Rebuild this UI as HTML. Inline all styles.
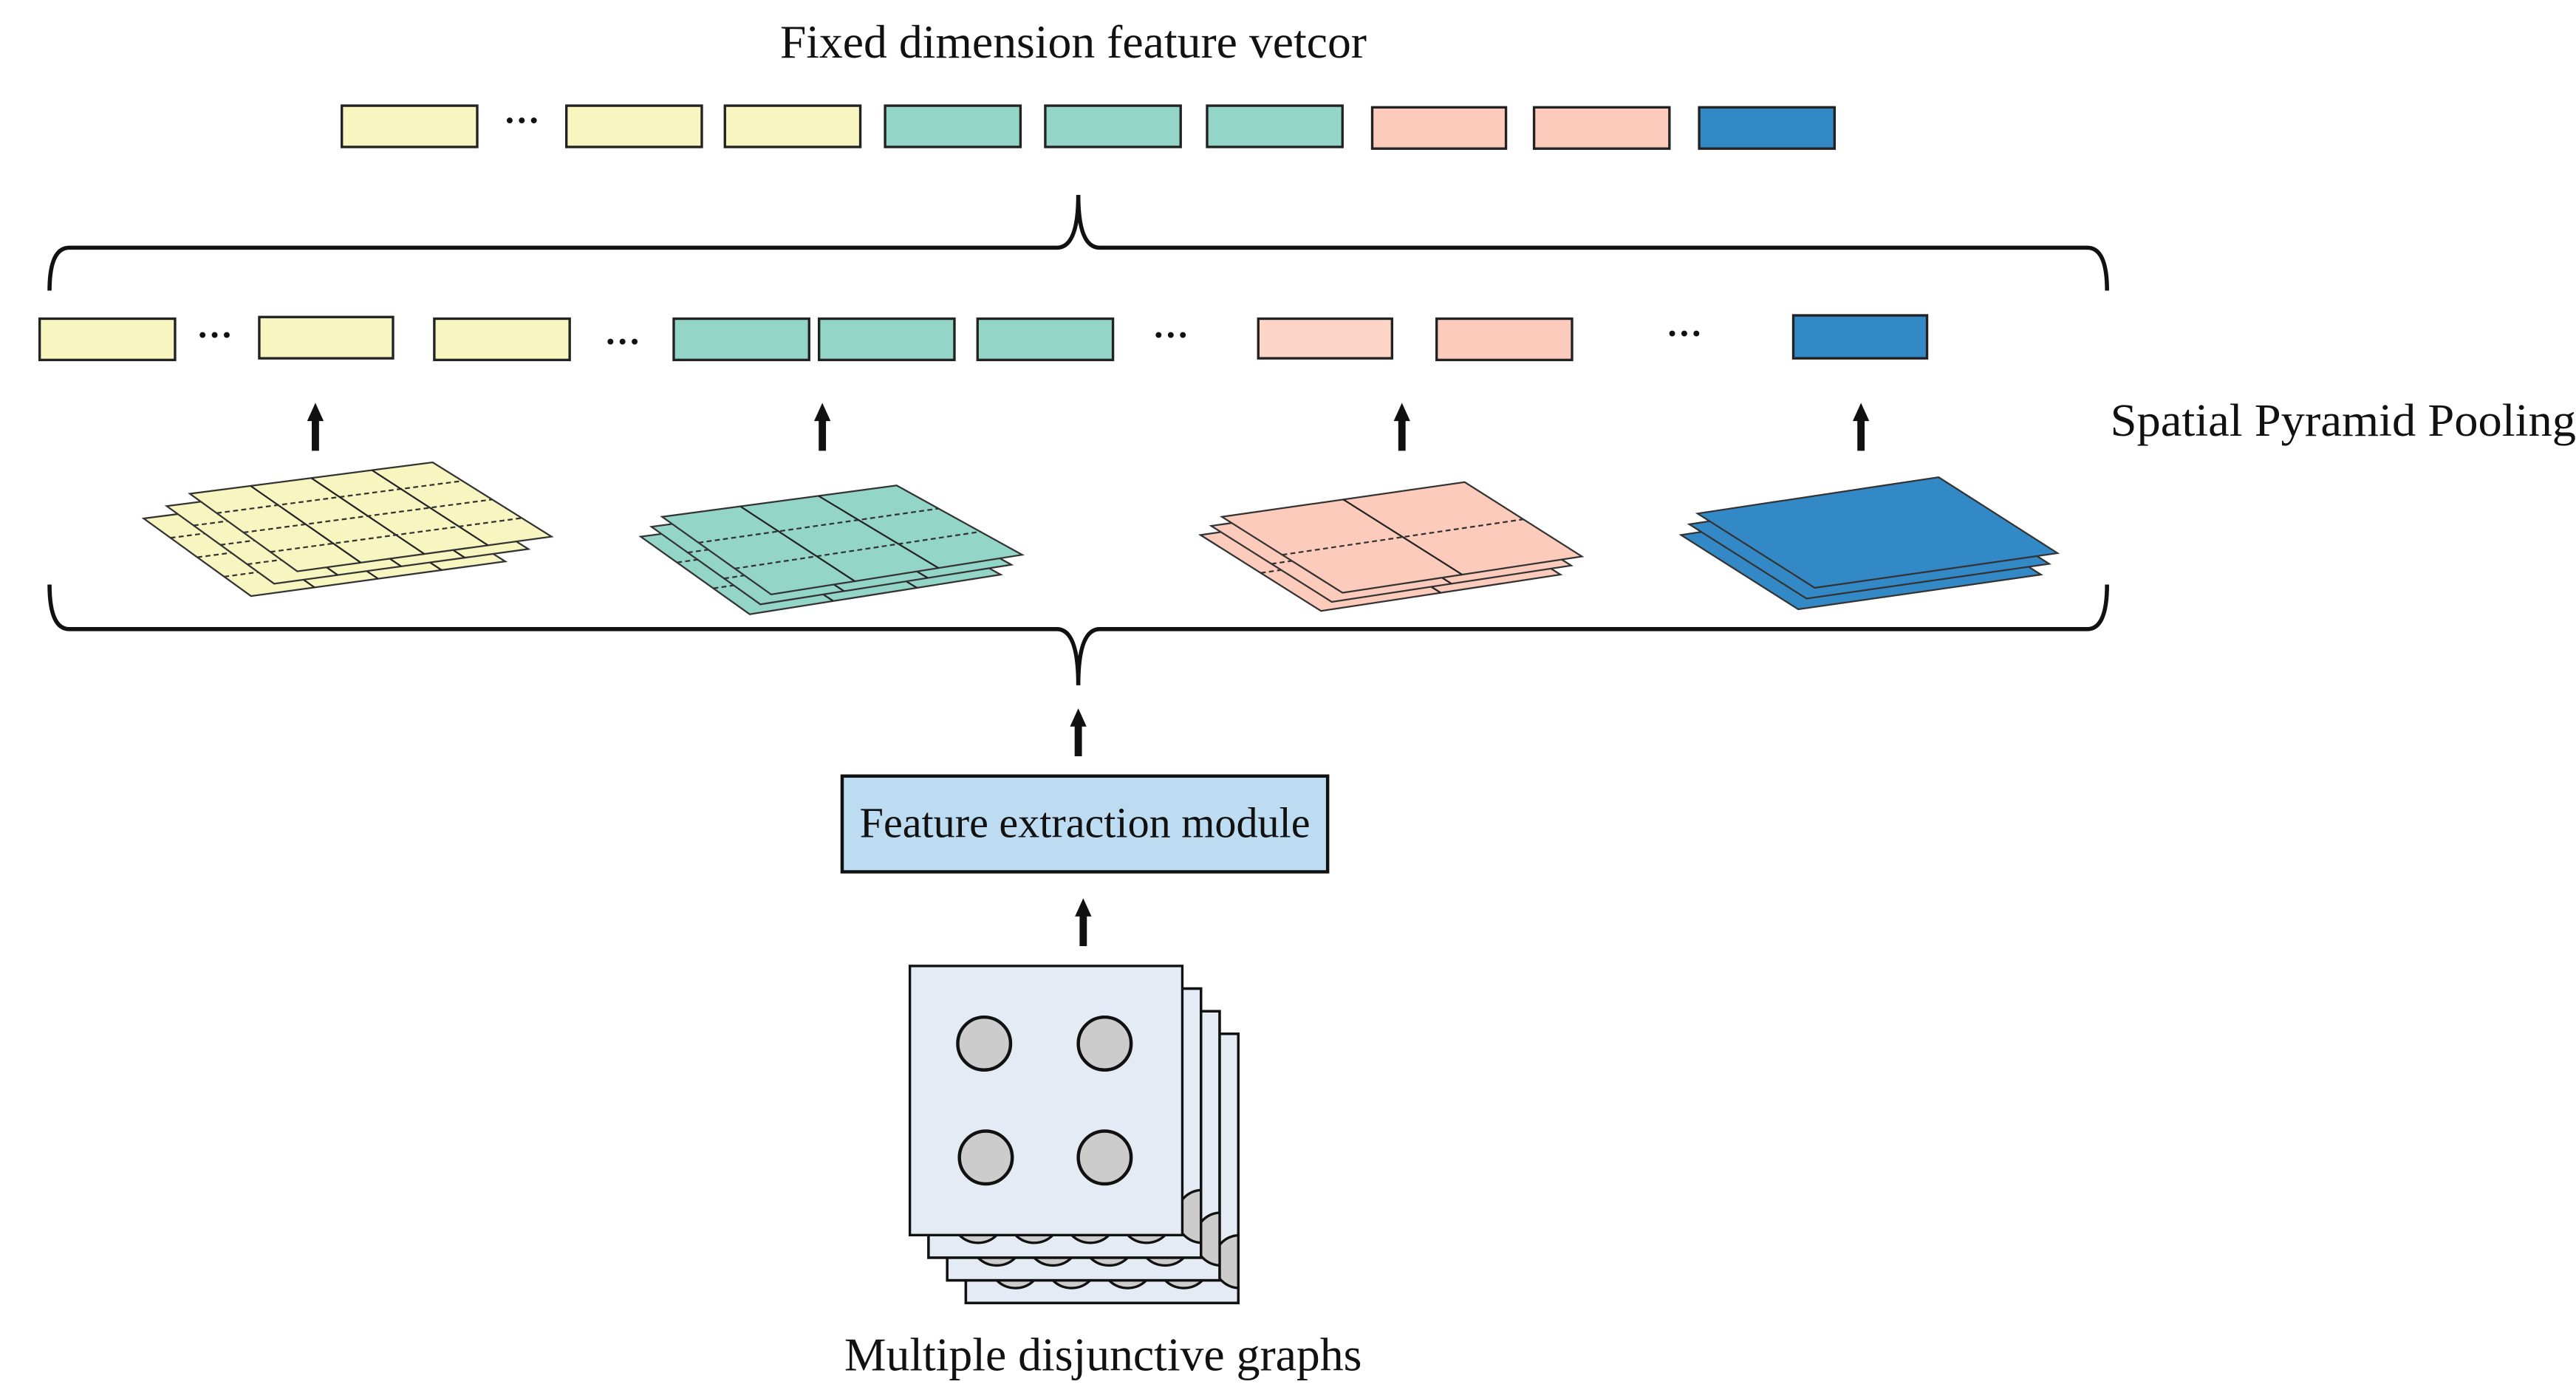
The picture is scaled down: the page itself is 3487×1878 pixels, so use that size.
<!DOCTYPE html>
<html><head><meta charset="utf-8"><style>
html,body{margin:0;padding:0;background:#fff;}
svg{display:block;}
text{font-family:"Liberation Serif",serif;fill:#111;}
</style></head><body>
<svg id="s" width="3487" height="1878" viewBox="0 0 1560 840" preserveAspectRatio="none" xmlns="http://www.w3.org/2000/svg">
<defs id="defs"></defs>
<text x="650" y="35" font-size="28.5" text-anchor="middle">Fixed dimension feature vetcor</text>
<g stroke="#222" stroke-width="1.5">
<rect x="207" y="64" width="82" height="25" fill="#f8f6c0"/>
<rect x="343" y="64" width="82" height="25" fill="#f8f6c0"/>
<rect x="439" y="64" width="82" height="25" fill="#f8f6c0"/>
<rect x="536" y="64" width="82" height="25" fill="#93d5c6"/>
<rect x="633" y="64" width="82" height="25" fill="#93d5c6"/>
<rect x="731" y="64" width="82" height="25" fill="#93d5c6"/>
<rect x="831" y="65" width="81" height="25" fill="#fccbbb"/>
<rect x="929" y="65" width="82" height="25" fill="#fccbbb"/>
<rect x="1029" y="65" width="82" height="25" fill="#3388c6"/>

<rect x="24" y="193" width="82" height="25" fill="#f8f6c0"/>
<rect x="157" y="192" width="81" height="25" fill="#f8f6c0"/>
<rect x="263" y="193" width="82" height="25" fill="#f8f6c0"/>
<rect x="408" y="193" width="82" height="25" fill="#93d5c6"/>
<rect x="496" y="193" width="82" height="25" fill="#93d5c6"/>
<rect x="592" y="193" width="82" height="25" fill="#93d5c6"/>
<rect x="762" y="193" width="81" height="24" fill="#fdd5c6"/>
<rect x="870" y="193" width="82" height="25" fill="#fccbbb"/>
<rect x="1086" y="191" width="81" height="26" fill="#3388c6"/>
</g>
<g font-size="22" font-weight="bold" text-anchor="middle">
<text x="316" y="80">···</text>
<text x="130" y="210">···</text>
<text x="377" y="214">···</text>
<text x="709" y="210">···</text>
<text x="1020" y="209">···</text>
</g>
<g fill="none" stroke="#111" stroke-width="2.5">
<path d="M30,176 Q30,150 42,150 L640,150 Q653,150 653,118 Q653,150 666,150 L1264,150 Q1276,150 1276,176"/>
<path d="M30,354 Q30,381 42,381 L640,381 Q653,381 653,415 Q653,381 666,381 L1264,381 Q1276,381 1276,354"/>
</g>
<text x="1278" y="264" font-size="28" textLength="282" lengthAdjust="spacingAndGlyphs">Spatial Pyramid Pooling</text>
<g id="arrows" fill="#111"></g>
<g id="planes"></g>
<rect x="510" y="470" width="294" height="58" fill="#bddcf2" stroke="#111" stroke-width="2"/>
<text x="657" y="507" font-size="26" text-anchor="middle">Feature extraction module</text>
<g id="graphs" stroke="#111" stroke-width="1.5"></g>
<text x="668" y="830" font-size="28.5" text-anchor="middle">Multiple disjunctive graphs</text>
</svg>
<script>
var NS="http://www.w3.org/2000/svg";
function el(p,t,a){var e=document.createElementNS(NS,t);for(var k in a)e.setAttribute(k,a[k]);p.appendChild(e);return e;}
var ar=document.getElementById("arrows");
[[191,273,244],[498,273,244],[849,273,244],[1127,273,244],[653,458,429],[656,573,544]].forEach(function(a){
 var x=a[0],y1=a[1],y0=a[2];
 el(ar,"rect",{x:x-2.2,y:y0+9,width:4.4,height:y1-y0-9});
 el(ar,"polygon",{points:(x-5)+","+(y0+11)+" "+(x+5)+","+(y0+11)+" "+x+","+y0});
});
var pl=document.getElementById("planes");
function L(p,q,t){return [p[0]+(q[0]-p[0])*t,p[1]+(q[1]-p[1])*t];}
function plane(A,B,C,D,fill,n,dx,dy,layers){
 for(var k=layers-1;k>=0;k--){
  var o=[dx*k,dy*k];
  function s(P){return [P[0]+o[0],P[1]+o[1]];}
  var a=s(A),b=s(B),c=s(C),d=s(D);
  var g=el(pl,"g",{});
  el(g,"polygon",{points:[a,b,c,d].map(function(p){return p.join(",");}).join(" "),fill:fill,stroke:"#333","stroke-width":1});
  for(var i=1;i<n;i++){
   var t=i/n;
   var p1=L(a,b,t),p2=L(d,c,t);
   el(g,"line",{x1:p1[0],y1:p1[1],x2:p2[0],y2:p2[1],stroke:"#222","stroke-width":1});
   var q1=L(a,d,t),q2=L(b,c,t);
   el(g,"line",{x1:q1[0],y1:q1[1],x2:q2[0],y2:q2[1],stroke:"#333","stroke-width":1,"stroke-dasharray":"3,2"});
  }
 }
}
plane([115,299],[262,280],[334,325],[180,346],"#f8f6c0",4,-14,7.5,3);
plane([401,313],[543,294],[619,336],[467,360],"#93d5c6",3,-6.5,6,3);
plane([740,313],[887,292],[958,337],[813,359],"#fccbbb",2,-6.5,5.5,3);
plane([1028,311],[1174,289],[1246,335],[1099,356],"#3388c6",1,-5,6.5,3);
var gr=document.getElementById("graphs"),defs=document.getElementById("defs");
for(var k=3;k>=0;k--){
 var x=551+k*11.3,y=585+k*13.7;
 el(gr,"rect",{x:x,y:y,width:165,height:163,fill:"#e4ebf5"});
 if(k>0){
  var cp=el(defs,"clipPath",{id:"c"+k});
  el(cp,"rect",{x:x,y:y,width:165,height:163});
  var cg=el(gr,"g",{"clip-path":"url(#c"+k+")"});
  for(var j=0;j<5;j++){el(cg,"ellipse",{cx:x+30+j*34,cy:y+138,rx:16,ry:16,fill:"#cccccc"});}
  el(gr,"rect",{x:x,y:y,width:165,height:163,fill:"none"});
 } else {
  [[596,632],[669,632],[597,701],[669,701]].forEach(function(c){el(gr,"ellipse",{cx:c[0],cy:c[1],rx:16,ry:16,fill:"#cccccc","stroke-width":2});});
 }
}
</script>
</body></html>
